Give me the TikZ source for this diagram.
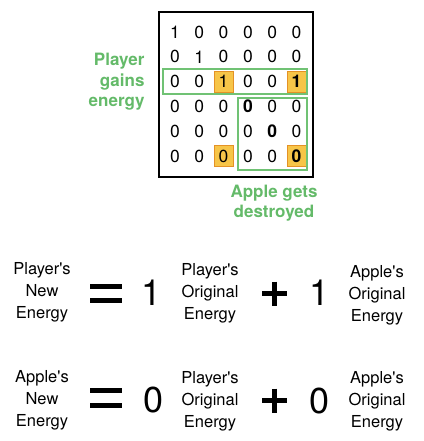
\documentclass[tikz,border=0pt]{standalone}
\usepackage{fontspec}
\setmainfont{TeX Gyre Heros}
\definecolor{labelgreen}{RGB}{100,186,105}
\definecolor{boxgreen}{RGB}{112,194,116}
\definecolor{hiliteyellow}{RGB}{247,197,72}
\definecolor{hiliteorange}{RGB}{228,146,38}
\newcommand{\apos}{\textquotesingle}

\tikzset{
  cell/.style={inner sep=0pt, font=\fontsize{17.5}{17.5}\selectfont},
  hilite/.style={fill=hiliteyellow, draw=hiliteorange, line width=1pt},
  groupbox/.style={draw=boxgreen, line width=2.4pt},
  greenlabel/.style={text=labelgreen, align=center, font=\fontsize{17}{20.5}\selectfont\bfseries},
  wordlabel/.style={align=center, font=\fontsize{16.5}{22}\selectfont},
  bignum/.style={font=\fontsize{36}{36}\selectfont},
  opbar/.style={line width=5pt},
}

\begin{document}
\begin{tikzpicture}[x=1pt, y=-1pt]
  \useasboundingbox (0,0) rectangle (423,441);

  % highlighted cells
  \foreach \r/\c in {3/3, 3/6, 6/3, 6/6}
    \draw[hilite] ({150.7+24.3*\c-9.5}, {7.2+24.8*\r-10.5}) rectangle ++(19,21);

  % the grid of values
  \foreach \row [count=\r] in {{1,0,0,0,0,0},{0,1,0,0,0,0},{0,0,1,0,0,\textbf{1}},
      {0,0,0,\textbf{0},0,0},{0,0,0,0,\textbf{0},0},{0,0,0,0,0,\textbf{0}}}
    \foreach \val [count=\c] in \row
      \node[cell] (m\r\c) at ({150.7+24.3*\c}, {7.2+24.8*\r}) {\val};

  \draw[line width=1.4pt] (159,12) rectangle (313,177);
  \draw[groupbox] (163,69) rectangle (307,94);
  \draw[groupbox] (238,98) rectangle (307,170);

  \node[greenlabel, align=right, anchor=east] (gains) at (148,82) {Player\\gains\\energy};
  \node[greenlabel] (destroyed) at (274,203) {Apple gets\\destroyed};

  % first equation
  \node[wordlabel] (pnew) at (42,292) {Player\apos s\\New\\Energy};
  \draw[opbar] (90,286.8) -- (122,286.8);
  \draw[opbar] (90,300.8) -- (122,300.8);
  \node[bignum] (one1) at (152,293) {1};
  \node[wordlabel] (porig1) at (210,293) {Player\apos s\\Original\\Energy};
  \draw[opbar] (262,293.5) -- (287,293.5);
  \draw[opbar] (274.5,281.5) -- (274.5,305.5);
  \node[bignum] (one2) at (320,293) {1};
  \node[wordlabel] (aorig1) at (377,295) {Apple\apos s\\Original\\Energy};

  % second equation
  \node[wordlabel] (anew) at (42,400) {Apple\apos s\\New\\Energy};
  \draw[opbar] (90,390.5) -- (122,390.5);
  \draw[opbar] (90,405.5) -- (122,405.5);
  \node[bignum] (zero1) at (154,400) {0};
  \node[wordlabel] (porig2) at (210,401) {Player\apos s\\Original\\Energy};
  \draw[opbar] (262,400.5) -- (287,400.5);
  \draw[opbar] (274.5,388.5) -- (274.5,412.5);
  \node[bignum] (zero2) at (320,401) {0};
  \node[wordlabel] (aorig2) at (377,401) {Apple\apos s\\Original\\Energy};
\end{tikzpicture}
\end{document}
